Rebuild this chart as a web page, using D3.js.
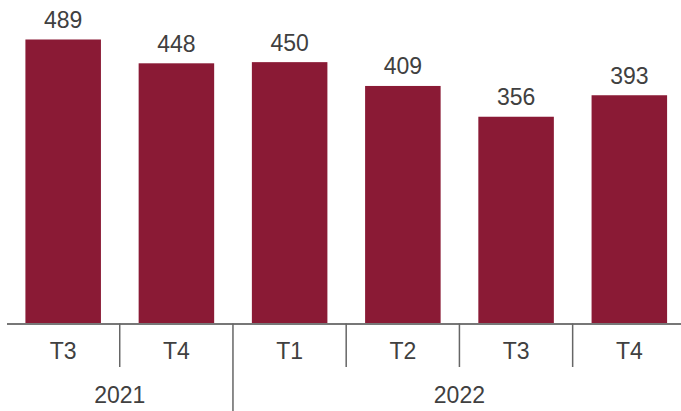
<!DOCTYPE html>
<html>
<head>
<meta charset="utf-8">
<script src="https://cdn.jsdelivr.net/npm/d3@7"></script>
<style>
  body { margin: 0; background: #fff; }
  svg text { font-family: "Liberation Sans", Arial, sans-serif; fill: #404040; }
</style>
</head>
<body>
<svg id="chart"></svg>
<script>
var quarters = ["T3", "T4", "T1", "T2", "T3", "T4"];
var years = ["2021", "2021", "2022", "2022", "2022", "2022"];
var values = [489, 448, 450, 409, 356, 393];

var width = 681, height = 411;
var baseY = 323.5;
var fs = "23px";

var svg = d3.select("#chart")
  .attr("width", width)
  .attr("height", height);

var idx = d3.range(values.length);

var x = d3.scaleBand()
  .domain(idx)
  .range([6.5, 686])
  .paddingInner(0.333)
  .paddingOuter(0.167);

var y = d3.scaleLinear().domain([0, 557]).range([baseY, 0]);

// bars
svg.selectAll(".bar")
  .data(idx)
  .enter().append("rect")
  .attr("class", "bar")
  .attr("x", function(i) { return x(i); })
  .attr("y", function(i) { return y(values[i]); })
  .attr("width", x.bandwidth())
  .attr("height", function(i) { return baseY - y(values[i]); })
  .attr("fill", "#8a1a35");

// value labels
svg.selectAll(".val")
  .data(idx)
  .enter().append("text")
  .attr("class", "val")
  .attr("x", function(i) { return x(i) + x.bandwidth() / 2; })
  .attr("y", function(i) { return y(values[i]) - 11.5; })
  .attr("text-anchor", "middle")
  .style("font-size", fs)
  .text(function(i) { return values[i]; });

// x axis with quarter labels
var xaxis = svg.append("g")
  .attr("transform", "translate(0," + baseY + ")")
  .call(d3.axisBottom(x).tickSize(0).tickPadding(19).tickFormat(function(i) { return quarters[i]; }));
xaxis.select(".domain").attr("stroke", "#777").attr("stroke-width", 2);
xaxis.selectAll("text")
  .style("font-size", fs)
  .attr("fill", "#404040")
  .attr("dy", "0.71em");

// separators between categories
var step = x.step();
var start = x.range()[0];
d3.range(1, values.length).forEach(function(k) {
  var sx = start + k * step;
  var yearBreak = years[k] !== years[k - 1];
  svg.append("line")
    .attr("x1", sx).attr("x2", sx)
    .attr("y1", baseY).attr("y2", yearBreak ? height : 367)
    .attr("stroke", "#666")
    .attr("stroke-width", 1.5);
});

// year labels
var yearGroups = d3.groups(idx, function(i) { return years[i]; });
yearGroups.forEach(function(g) {
  var first = g[1][0], last = g[1][g[1].length - 1];
  var x0 = first === 0 ? x.range()[0] : start + first * step;
  var x1 = start + (last + 1) * step;
  svg.append("text")
    .attr("x", (x0 + x1) / 2)
    .attr("y", 402.5)
    .attr("text-anchor", "middle")
    .style("font-size", fs)
    .text(g[0]);
});
</script>
</body>
</html>
